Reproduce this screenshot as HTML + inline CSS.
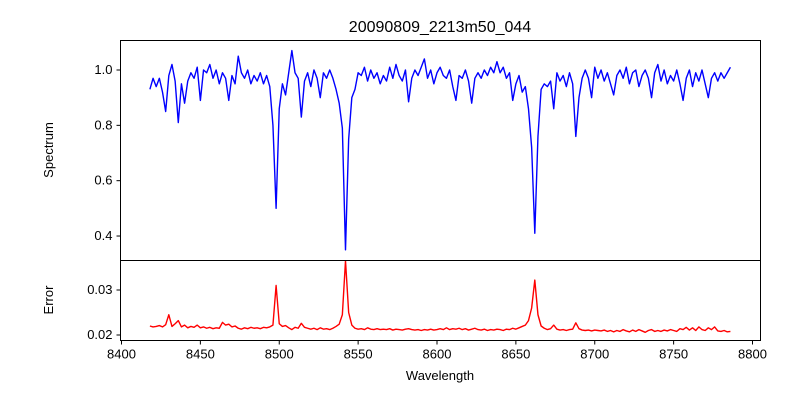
<!DOCTYPE html>
<html><head><meta charset="utf-8"><style>
body{margin:0;background:#fff}
svg{display:block;font-family:"Liberation Sans","DejaVu Sans",sans-serif}
</style></head><body>
<svg id="chart" width="800" height="400" viewBox="0 0 800 400">
<text x="440" y="32" text-anchor="middle" font-size="16">20090809_2213m50_044</text>
<g id="topAxes"></g>
<g id="botAxes"></g>
<text transform="translate(53,150) rotate(-90)" text-anchor="middle" font-size="13">Spectrum</text>
<text transform="translate(53,300) rotate(-90)" text-anchor="middle" font-size="13">Error</text>
<text x="440" y="380" text-anchor="middle" font-size="13">Wavelength</text>
</svg>
<script>
const wavelengths = [8418,8420,8422,8424,8426,8428,8430,8432,8434,8436,8438,8440,8442,8444,8446,8448,8450,8452,8454,8456,8458,8460,8462,8464,8466,8468,8470,8472,8474,8476,8478,8480,8482,8484,8486,8488,8490,8492,8494,8496,8498,8500,8502,8504,8506,8508,8510,8512,8514,8516,8518,8520,8522,8524,8526,8528,8530,8532,8534,8536,8538,8540,8542,8544,8546,8548,8550,8552,8554,8556,8558,8560,8562,8564,8566,8568,8570,8572,8574,8576,8578,8580,8582,8584,8586,8588,8590,8592,8594,8596,8598,8600,8602,8604,8606,8608,8610,8612,8614,8616,8618,8620,8622,8624,8626,8628,8630,8632,8634,8636,8638,8640,8642,8644,8646,8648,8650,8652,8654,8656,8658,8660,8662,8664,8666,8668,8670,8672,8674,8676,8678,8680,8682,8684,8686,8688,8690,8692,8694,8696,8698,8700,8702,8704,8706,8708,8710,8712,8714,8716,8718,8720,8722,8724,8726,8728,8730,8732,8734,8736,8738,8740,8742,8744,8746,8748,8750,8752,8754,8756,8758,8760,8762,8764,8766,8768,8770,8772,8774,8776,8778,8780,8782,8784,8786];
const flux = [0.93,0.97,0.94,0.97,0.92,0.85,0.98,1.02,0.96,0.81,0.95,0.88,0.96,0.99,0.97,1.01,0.89,1.00,0.99,1.02,0.97,1.00,0.95,0.99,0.97,0.89,0.98,0.95,1.05,0.99,0.97,1.00,0.95,0.98,0.96,0.99,0.95,0.98,0.94,0.80,0.50,0.86,0.95,0.91,0.99,1.07,0.99,0.97,0.83,0.96,0.99,0.94,1.00,0.97,0.90,0.99,0.97,1.00,0.97,0.93,0.88,0.79,0.35,0.75,0.90,0.93,0.99,0.98,1.01,0.96,1.00,0.97,0.99,0.95,0.98,0.96,1.01,0.97,1.02,0.98,0.96,1.00,0.885,0.97,1.00,0.98,1.01,1.04,0.97,1.00,0.95,0.99,1.01,0.98,0.97,1.00,0.94,0.89,0.98,0.97,1.00,0.96,0.88,0.97,0.99,0.97,1.00,0.98,1.01,0.99,1.03,0.99,1.01,0.97,0.99,0.89,0.95,0.98,0.92,0.94,0.86,0.72,0.41,0.76,0.93,0.95,0.94,0.96,0.86,0.99,0.96,0.98,0.94,0.99,0.95,0.76,0.90,0.97,1.00,0.97,0.90,1.01,0.97,1.00,0.96,0.99,0.95,0.91,0.98,1.00,0.97,1.01,0.95,0.99,1.00,0.94,0.98,1.00,0.97,0.90,0.99,1.02,0.96,1.00,0.95,0.98,0.96,1.00,0.95,0.89,0.97,1.00,0.94,0.99,0.96,1.00,0.95,0.90,0.97,0.99,0.96,0.99,0.97,0.99,1.01];
const errors = [0.0220,0.0218,0.0219,0.0221,0.0218,0.0223,0.0245,0.0219,0.0225,0.0232,0.0218,0.0222,0.0216,0.0219,0.0217,0.0222,0.0216,0.0218,0.0215,0.0217,0.0214,0.0216,0.0215,0.0228,0.0222,0.0224,0.0218,0.0220,0.0215,0.0213,0.0216,0.0214,0.0217,0.0215,0.0216,0.0214,0.0217,0.0216,0.0218,0.0222,0.0310,0.0225,0.0219,0.0221,0.0216,0.0212,0.0217,0.0215,0.0226,0.0217,0.0215,0.0213,0.0215,0.0212,0.0216,0.0213,0.0214,0.0212,0.0215,0.0219,0.0224,0.0245,0.0365,0.0250,0.0222,0.0215,0.0213,0.0214,0.0212,0.0216,0.0213,0.0212,0.0214,0.0212,0.0213,0.0212,0.0214,0.0211,0.0213,0.0212,0.0211,0.0213,0.0214,0.0212,0.0211,0.0212,0.0210,0.0212,0.0211,0.0213,0.0211,0.0212,0.0214,0.0212,0.0216,0.0212,0.0214,0.0213,0.0215,0.0212,0.0214,0.0211,0.0213,0.0215,0.0212,0.0211,0.0213,0.0210,0.0212,0.0211,0.0213,0.0212,0.0210,0.0213,0.0212,0.0215,0.0213,0.0216,0.0219,0.0222,0.0232,0.0260,0.0322,0.0245,0.0220,0.0215,0.0212,0.0214,0.0222,0.0213,0.0211,0.0212,0.0210,0.0212,0.0213,0.0227,0.0214,0.0211,0.0210,0.0211,0.0209,0.0211,0.0210,0.0209,0.0211,0.0208,0.0210,0.0207,0.0210,0.0208,0.0212,0.0209,0.0207,0.0211,0.0208,0.0212,0.0209,0.0206,0.0210,0.0212,0.0208,0.0210,0.0208,0.0211,0.0209,0.0212,0.0210,0.0208,0.0214,0.0212,0.0217,0.0211,0.0216,0.0210,0.0218,0.0212,0.0210,0.0216,0.0212,0.0218,0.0209,0.0208,0.0210,0.0207,0.0208];
const xTicks = [8400,8450,8500,8550,8600,8650,8700,8750,8800];
const xTickLabels = ["8400","8450","8500","8550","8600","8650","8700","8750","8800"];
const fluxTicks = [0.4,0.6,0.8,1.0];
const fluxTickLabels = ["0.4","0.6","0.8","1.0"];
const errTicks = [0.02,0.03];
const errTickLabels = ["0.02","0.03"];

const NS="http://www.w3.org/2000/svg";
const L=120.5,R=760.5,T1=40.5,B1=260.5,B2=340.5;
const xs=v=>121.5+(v-8400)*1.5775;
const yTop=v=>70-(v-1.0)*276.7;
const yBot=v=>290-(v-0.03)*4500;
function mk(tag,attrs,parent){const e=document.createElementNS(NS,tag);for(const k in attrs)e.setAttribute(k,attrs[k]);parent.appendChild(e);return e;}
const topG=document.getElementById('topAxes'), botG=document.getElementById('botAxes');
let d='';
const n=Math.min(wavelengths.length,flux.length,errors.length);
for(let i=0;i<n;i++) d+=(i?'L':'M')+xs(wavelengths[i]).toFixed(2)+' '+yTop(flux[i]).toFixed(2);
const fl=mk('path',{d:d,fill:'none',stroke:'#0000ff','stroke-width':1.4,'stroke-linejoin':'round'},topG);


d='';
for(let i=0;i<n;i++) d+=(i?'L':'M')+xs(wavelengths[i]).toFixed(2)+' '+yBot(errors[i]).toFixed(2);
const el=mk('path',{d:d,fill:'none',stroke:'#ff0000','stroke-width':1.4,'stroke-linejoin':'round'},botG);


const f1=mk('rect',{x:L,y:T1,width:R-L,height:B1-T1,fill:'none',stroke:'#000','stroke-width':1},topG);


const f2=mk('rect',{x:L,y:B1,width:R-L,height:B2-B1,fill:'none',stroke:'#000','stroke-width':1},botG);


fluxTicks.forEach((v,i)=>{const y=yTop(v);
 mk('line',{x1:L,x2:L-4,y1:y,y2:y,stroke:'#000'},topG);
 const t=mk('text',{x:L-8,y:y+4,'text-anchor':'end','font-size':13},topG);t.textContent=fluxTickLabels[i];
 
 });
errTicks.forEach((v,i)=>{const y=yBot(v);
 mk('line',{x1:L,x2:L-4,y1:y,y2:y,stroke:'#000'},botG);
 const t=mk('text',{x:L-8,y:y+4,'text-anchor':'end','font-size':13},botG);t.textContent=errTickLabels[i];
 
 });
xTicks.forEach((v,i)=>{const x=xs(v);
 mk('line',{x1:x,x2:x,y1:B2,y2:B2+4,stroke:'#000'},botG);
 const t=mk('text',{x:x,y:B2+18,'text-anchor':'middle','font-size':13},botG);t.textContent=xTickLabels[i];
 
 });
</script>
</body></html>
